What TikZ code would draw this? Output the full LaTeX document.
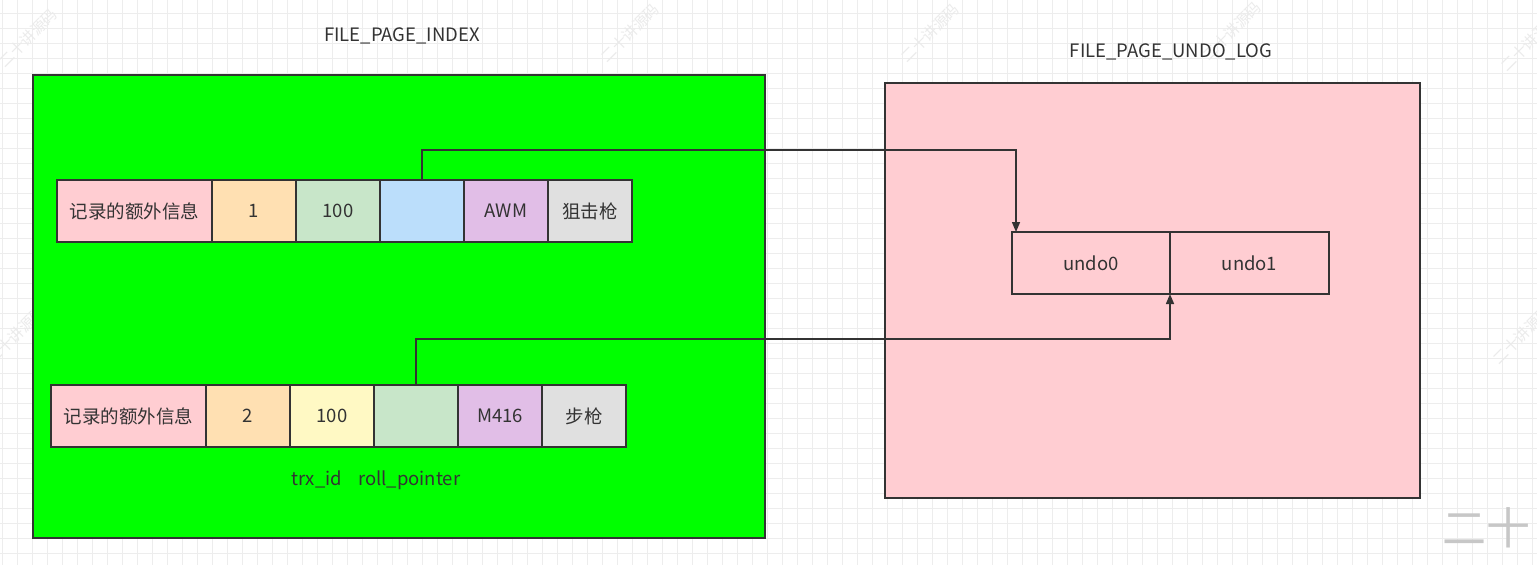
\documentclass[tikz,border=0pt]{standalone}
\usepackage{fontspec}
\setmainfont{Noto Sans CJK SC}
\usetikzlibrary{arrows.meta, positioning}

\definecolor{lineDark}{HTML}{333333}
\definecolor{pageGreen}{HTML}{00FF00}
\definecolor{pagePink}{HTML}{FFCDD2}
\definecolor{cellPink}{HTML}{FFCDD2}
\definecolor{cellOrange}{HTML}{FFE0B2}
\definecolor{cellGreen}{HTML}{C8E6C9}
\definecolor{cellBlue}{HTML}{BBDEFB}
\definecolor{cellPurple}{HTML}{E1BEE7}
\definecolor{cellGray}{HTML}{E0E0E0}
\definecolor{cellYellow}{HTML}{FFF9C4}

\tikzset{
  txt/.style={font=\fontsize{18.5}{21}\selectfont, text=lineDark},
  cell/.style={txt, draw=lineDark, line width=2pt, inner sep=0pt, outer sep=0pt,
    minimum width=84pt, minimum height=62pt},
  wide/.style={minimum width=155pt},
  page/.style={draw=lineDark, line width=2pt},
  ptr/.style={draw=lineDark, line width=1.5pt, -{Triangle[length=10pt, width=8pt]}},
  gridLine/.style={draw=black!7, line width=0.8pt},
  wmark/.style={text=black!8, font=\fontsize{15}{15}\selectfont, rotate=45}
}

\begin{document}
\begin{tikzpicture}[x=1pt, y=-1pt]
\fill [white] (0,0) rectangle (1537,565);
\useasboundingbox (0,0) rectangle (1537,565);

% background grid
\foreach \gx in {2,17,...,1537}
  \draw [gridLine] (\gx,0) -- (\gx,565);
\foreach \gy in {13,28,...,565}
  \draw [gridLine] (0,\gy) -- (1537,\gy);

% watermarks
\foreach \wx/\wy [count=\i] in {28/38, 630/33, 930/33, 1232/31, 1530/42, 16/335, 1522/335}
  \node [wmark] (wm\i) at (\wx,\wy) {二十讲源码};
\node [text=black!22, font=\fontsize{44}{44}\selectfont] (corner) at (1486,528) {二十};

% pages
\draw [page, fill=pageGreen] (33,75) rectangle (765,538);
\draw [page, fill=pagePink] (885,83) rectangle (1420,498);
\node [txt] (idxTitle) at (402,36) {FILE\_PAGE\_INDEX};
\node [txt] (undoTitle) at (1171,52) {FILE\_PAGE\_UNDO\_LOG};

% first record
\node [cell, wide, fill=cellPink, anchor=north west] (r1a) at (57,180) {记录的额外信息};
\node [cell, fill=cellOrange, right=0pt of r1a] (r1b) {1};
\node [cell, fill=cellGreen, right=0pt of r1b] (r1c) {100};
\node [cell, fill=cellBlue, right=0pt of r1c] (r1d) {};
\node [cell, fill=cellPurple, right=0pt of r1d] (r1e) {AWM};
\node [cell, fill=cellGray, right=0pt of r1e] (r1f) {狙击枪};

% second record
\node [cell, wide, fill=cellPink, anchor=north west] (r2a) at (51,385) {记录的额外信息};
\node [cell, fill=cellOrange, right=0pt of r2a] (r2b) {2};
\node [cell, fill=cellYellow, right=0pt of r2b] (r2c) {100};
\node [cell, fill=cellGreen, right=0pt of r2c] (r2d) {};
\node [cell, fill=cellPurple, right=0pt of r2d] (r2e) {M416};
\node [cell, fill=cellGray, right=0pt of r2e] (r2f) {步枪};
\node [txt] (cols) at (376,480) {trx\_id\hspace{16pt}roll\_pointer};

% undo log
\node [cell, minimum width=158pt, fill=pagePink, anchor=north west] (u0) at (1012,232) {undo0};
\node [cell, minimum width=159pt, fill=pagePink, right=0pt of u0] (u1) {undo1};

% roll pointers
\draw [ptr] (r1d.north) -- ++(0,-30) -| ([xshift=4pt]u0.north west);
\draw [ptr] (r2d.north) -- ++(0,-46) -| (u0.south east);
\end{tikzpicture}
\end{document}
